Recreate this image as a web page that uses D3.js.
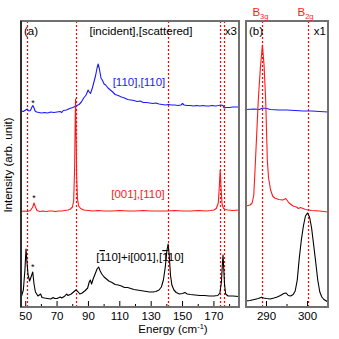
<!DOCTYPE html>
<html>
<head>
<meta charset="utf-8">
<script src="https://cdn.jsdelivr.net/npm/d3@7"></script>
<style>
  body { margin: 0; background: #fff; }
  svg text { font-family: "Liberation Sans", Arial, sans-serif; }
</style>
</head>
<body>
<svg id="chart" width="339" height="339"></svg>
<script>
// energy (cm-1), intensity (arb. unit, offset traces)
var blueA = [[47,196],[48.5,195.5],[50,197],[51,198],[52,196],[53,196.5],[54,200],[54.6,201.5],[55.3,199],[56,196],[57,195],[58.5,194.5],[60,194],[62,194.5],[64,194],[66,195],[68,194.5],[70,195],[72,195.5],[73,194.5],[74,196.5],[76,197],[78,198.5],[80,199.5],[82,201],[84,202.5],[85.5,205],[87,209],[88.5,212],[89.8,217],[90.5,215],[91.3,213.5],[92.5,219],[93.5,225],[94.5,231],[95.5,239],[96.2,243],[97,238],[98,229],[98.8,227],[100,223],[101,222],[102.5,219],[104,217],[105.5,215],[107,212.5],[109,211.5],[111,210],[113,209],[115,207.5],[117,207],[119,206.5],[121,205.5],[123,206],[125,204.5],[127,204.5],[129,204],[131,203.5],[133,204],[135,203],[137,202.5],[139,202],[141,202.5],[143,202],[145,202],[147,201.5],[149,202],[150,203.5],[151,202],[153,201.5],[155,201.5],[157,201],[159,201.5],[161,201],[163,201.5],[165,201],[167,201],[169,201.5],[171,201],[173,201.5],[174.5,202],[175.8,201.5],[176.5,199],[178,199.5],[180,199.5],[182,200],[184,200],[186,200]];

var redA = [[47,95.5],[49,96],[51,95.5],[53,96.5],[54.5,100],[55.3,104],[56.2,100],[57.2,96.5],[59,95.5],[61,96],[63,95.5],[65,96],[67,96],[69,95.5],[71,96],[73,96],[75,96.5],[77,97],[78.5,98],[79.8,100],[80.6,106],[81.2,140],[81.6,190],[81.8,208],[82.1,180],[82.5,130],[83,108],[83.8,101],[85,98.5],[87,97],[90,96.5],[93,96],[96,96.5],[100,96],[105,96],[110,96.5],[115,96],[120,96],[125,96.5],[130,96],[135,96],[140,96],[145,96.5],[150,96],[155,96],[160,96.5],[165,96],[168,96.5],[170,97],[171.5,98.5],[172.8,104],[173.5,122],[174,137],[174.5,120],[175.2,103],[176,99],[177,97.5],[179,97],[182,96.5],[186,97]];

var blackA = [[47,9],[48.5,17],[49.5,37],[50.2,58],[50.8,45],[51.5,32],[52.5,26],[53.4,30],[54.5,35],[55.3,23],[56.2,15],[57.8,11],[59.5,13],[60.4,9.5],[62,9],[64,8.5],[66,8],[67.5,9.5],[68.5,8.5],[70,8.5],[72,10],[73,9],[75,11],[76,13],[77,11.5],[79,13],[80.5,15],[82,17],[83.2,15.5],[84.5,13],[86,14],[88,16.5],[89.5,19],[90.5,25],[91.2,27],[92,23],[93,28],[94.5,34],[95.5,38],[96.5,40],[97.5,36],[98.5,33],[100,30],[101.5,28],[103,26],[105,24.5],[107,22.5],[109,22],[111,21],[113,19.5],[115,19.5],[117,18.5],[119,17.5],[121,17],[123,16.5],[125,16],[127,15.5],[129,15],[131,15],[133,15.5],[135,17],[136.5,20],[137.8,27],[139,40],[140,56],[140.8,63],[141.5,52],[142.3,32],[143.2,22],[144.5,17],[146,14.5],[148,13],[150,13.5],[151.5,14.5],[153,13],[155,12.5],[158,12],[161,11.5],[164,11.5],[167,11],[170,11],[172.5,11.5],[173.8,14],[174.8,25],[175.3,40],[175.8,52],[176.3,38],[176.8,22],[177.5,13],[179,11],[182,11],[186,10.5]];

var redB = [[285,101],[286,102],[286.5,104],[286.9,112],[287.2,137],[287.6,172],[288,207],[288.5,239],[289,262],[289.4,242],[289.8,207],[290.2,147],[290.5,129],[291,117],[291.5,111],[292,109],[293,107.5],[294,107],[294.7,108.5],[295.5,104],[296.5,101],[297.3,100],[297.8,98.5],[298.3,99.5],[299.5,97.5],[301,96.5],[303,96],[305,95]];

var blueB = [[285,197.5],[287,198],[288.3,197.5],[289,199],[290,198.5],[291,197.5],[293,197],[295,197],[297,196.5],[299,196],[301,196],[303,195.5],[305,195]];

var blackB = [[285,6],[286,6.5],[287,7.5],[288,8.5],[288.8,9.7],[289.3,9],[290,8.5],[290.9,8],[291.8,9],[292.6,10],[293.4,11.5],[294.2,13.5],[294.8,14],[295.3,11.5],[295.9,11],[296.5,12.5],[297,16],[297.5,27],[298,49],[298.5,67],[299,81],[299.5,91],[300,94],[300.5,90],[301,79],[301.5,62],[302,45],[302.5,27],[303,15],[303.5,10],[304,7.5],[305,5]];

var modesA = [50.6, 81.8, 140.7, 174.1, 176.2];
var modesB = [289, 300];
var ticksA = [50, 70, 90, 110, 130, 150, 170];
var minorA = [60, 80, 100, 120, 140, 160, 180];
var ticksB = [290, 300];
var minorB = [295];
var starsA = [[54.6, 207], [55.3, 112], [54.5, 43]]; // blue, red, black

var svg = d3.select("#chart"),
    yTop = 21, yBot = 307;

var xa = d3.scaleLinear().domain([47, 186]).range([21, 239]);
var xb = d3.scaleLinear().domain([285, 305]).range([246, 328]);
var y = d3.scaleLinear().domain([0, 286]).range([yBot, yTop]);

function drawPanel(x, sets, modes, major, minor, id) {
  var x0 = x.range()[0], x1 = x.range()[1];
  svg.append("clipPath").attr("id", id)
    .append("rect").attr("x", x0).attr("y", yTop).attr("width", x1 - x0).attr("height", yBot - yTop);

  var g = svg.append("g").attr("clip-path", "url(#" + id + ")");

  g.selectAll(".mode").data(modes).enter().append("line")
    .attr("x1", function(d) { return Math.round(x(d)) + 0.5; })
    .attr("x2", function(d) { return Math.round(x(d)) + 0.5; })
    .attr("y1", yTop).attr("y2", yBot)
    .attr("stroke", "#ff0000").attr("stroke-width", 1.2)
    .attr("stroke-dasharray", "2,2");

  var line = d3.line().x(function(d) { return x(d[0]); }).y(function(d) { return y(d[1]); });
  sets.forEach(function(s) {
    g.append("path").datum(s.data)
      .attr("d", line).attr("fill", "none")
      .attr("stroke", s.color).attr("stroke-width", 1.1)
      .attr("stroke-linejoin", "round");
  });

  svg.selectAll(null).data(major).enter().append("line")
    .attr("x1", function(d) { return x(d); }).attr("x2", function(d) { return x(d); })
    .attr("y1", yBot).attr("y2", yBot - 6)
    .attr("stroke", "#000").attr("stroke-width", 1);
  svg.selectAll(null).data(minor).enter().append("line")
    .attr("x1", function(d) { return x(d); }).attr("x2", function(d) { return x(d); })
    .attr("y1", yBot).attr("y2", yBot - 3)
    .attr("stroke", "#000").attr("stroke-width", 1);
  svg.selectAll(null).data(major).enter().append("text")
    .attr("x", function(d) { return x(d); }).attr("y", yBot + 13)
    .attr("text-anchor", "middle").attr("font-size", 11.5)
    .text(function(d) { return d; });

  svg.append("rect").attr("x", x0).attr("y", yTop)
    .attr("width", x1 - x0).attr("height", yBot - yTop)
    .attr("fill", "none").attr("stroke", "#707070").attr("stroke-width", 2);
}

drawPanel(xa, [{data: blueA, color: "#1a1aff"}, {data: redA, color: "#ff1a1a"}, {data: blackA, color: "#000"}],
  modesA, ticksA, minorA, "clipA");
drawPanel(xb, [{data: blueB, color: "#1a1aff"}, {data: redB, color: "#ff1a1a"}, {data: blackB, color: "#000"}],
  modesB, ticksB, minorB, "clipB");

// left spine of panel (a)
svg.append("line").attr("x1", 21).attr("x2", 21).attr("y1", yTop).attr("y2", yBot)
  .attr("stroke", "#000").attr("stroke-width", 1.2);

svg.selectAll(null).data(starsA).enter().append("text")
  .attr("x", function(d) { return xa(d[0]); }).attr("y", function(d) { return y(d[1]) + 6; })
  .attr("text-anchor", "middle").attr("font-size", 9).text("*");

function label(x, yy, txt, color, anchor) {
  return svg.append("text").attr("x", x).attr("y", yy).attr("font-size", 11.5)
    .attr("fill", color || "#000").attr("text-anchor", anchor || "start").text(txt);
}
label(24, 35, "(a)");
label(141, 35, "[incident],[scattered]", "#000", "middle");
label(237, 35, "x3", "#000", "end");
label(249, 35, "(b)");
label(326, 35, "x1", "#000", "end");
label(139, 86, "[110],[110]", "#1a1aff", "middle");
label(138, 198, "[001],[110]", "#ff1a1a", "middle");

var t = svg.append("text").attr("x", 140).attr("y", 261).attr("font-size", 11.5).attr("text-anchor", "middle");
t.append("tspan").text("[");
t.append("tspan").style("text-decoration", "overline").text("1");
t.append("tspan").text("10]+i[001],[");
t.append("tspan").style("text-decoration", "overline").text("1");
t.append("tspan").text("10]");

modesB.forEach(function(m, i) {
  var b = svg.append("text").attr("x", xb(m) - 2).attr("y", 16).attr("font-size", 11.5)
    .attr("fill", "#ff1a1a").attr("text-anchor", "middle");
  b.append("tspan").text("B");
  b.append("tspan").attr("font-size", 7.5).attr("dy", 3).text(i == 0 ? "3g" : "2g");
});

svg.append("text").attr("transform", "translate(12,165) rotate(-90)")
  .attr("text-anchor", "middle").attr("font-size", 11.5).text("Intensity (arb. unit)");

var xl = svg.append("text").attr("x", 173).attr("y", 333).attr("font-size", 11.5).attr("text-anchor", "middle");
xl.append("tspan").text("Energy (cm");
xl.append("tspan").attr("font-size", 7.5).attr("dy", -4).text("-1");
xl.append("tspan").attr("dy", 4).text(")");
</script>
</body>
</html>
